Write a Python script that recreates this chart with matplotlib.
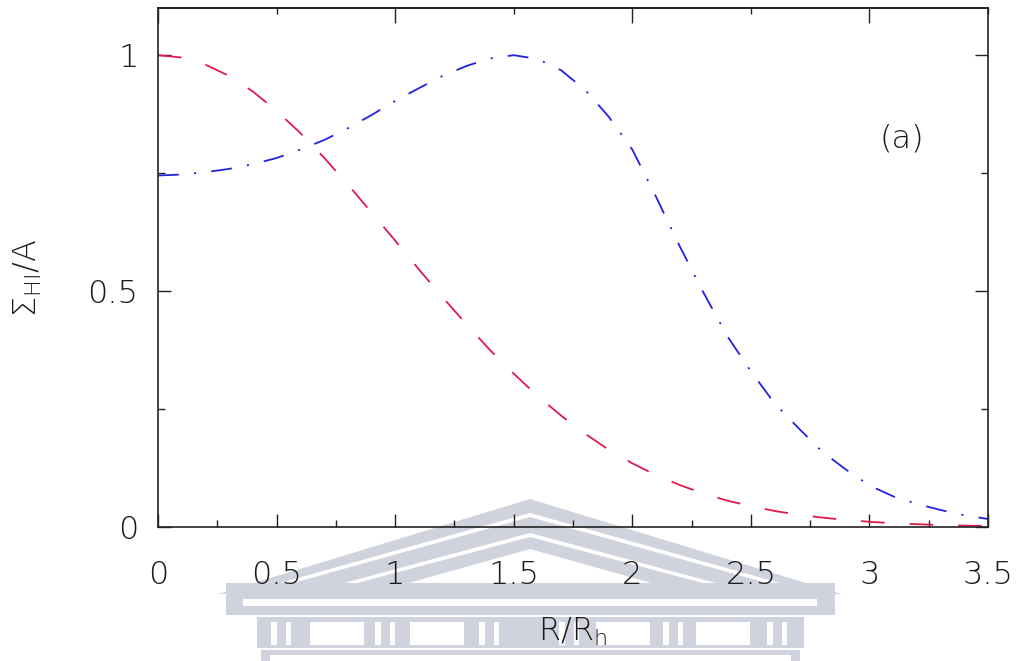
import numpy as np
import matplotlib
matplotlib.use('Agg')
import matplotlib.pyplot as plt
from matplotlib.patches import Polygon
from matplotlib.ticker import MultipleLocator

# radius in units of R_h
r = np.round(np.arange(0, 3.51, 0.1), 2)

# central profile (red, dashed)
sigma_central = [1.000, 0.995, 0.980, 0.956, 0.923, 0.882, 0.835, 0.783, 0.726, 0.667,
                 0.607, 0.546, 0.487, 0.430, 0.375, 0.325, 0.278, 0.236, 0.198, 0.164,
                 0.135, 0.110, 0.089, 0.071, 0.056, 0.044, 0.034, 0.026, 0.020, 0.015,
                 0.011, 0.008, 0.006, 0.004, 0.003, 0.002]

# ring profile (blue, dash-dot)
sigma_ring = [0.745, 0.747, 0.752, 0.759, 0.769, 0.782, 0.800, 0.820, 0.845, 0.873,
              0.903, 0.930, 0.956, 0.977, 0.993, 1.000, 0.992, 0.968, 0.927, 0.870,
              0.800, 0.700, 0.595, 0.497, 0.405, 0.330, 0.262, 0.210, 0.160, 0.122,
              0.088, 0.065, 0.049, 0.036, 0.025, 0.017]

W, H = 1024, 661
plt.rcParams['font.family'] = ['DejaVu Sans']
plt.rcParams['mathtext.fontset'] = 'custom'
plt.rcParams['mathtext.rm'] = 'DejaVu Sans:light'
plt.rcParams['mathtext.it'] = 'DejaVu Sans:light'
plt.rcParams['lines.scale_dashes'] = False

fig = plt.figure(figsize=(W / 100, H / 100), dpi=100)
fig.patch.set_facecolor('white')


def px(x, y):
    return (x / W, 1 - y / H)


# faint building watermark behind the plot
wm = '#d0d3de'
bg = 'white'


def poly(pts, color):
    fig.patches.append(Polygon([px(*p) for p in pts], closed=True, facecolor=color,
                               edgecolor='none', transform=fig.transFigure, zorder=-5))


def rect(x0, y0, x1, y1, color):
    poly([(x0, y0), (x1, y0), (x1, y1), (x0, y1)], color)


poly([(218, 594), (530, 499), (842, 594)], wm)
poly([(255, 590), (530, 513), (805, 590), (792, 590), (530, 517), (268, 590)], bg)
poly([(318, 590), (530, 533), (742, 590), (729, 590), (530, 537), (331, 590)], bg)
poly([(405, 584), (530, 549), (655, 584)], bg)
rect(226, 583, 835, 615, wm)
rect(243, 599, 817, 606, bg)
rect(257, 617, 804, 648, wm)
for cx in (-193, -93, 93, 193):
    rect(530 + cx - 27, 622, 530 + cx + 27, 645, bg)
for cx in (-248, -144, -40, 40, 144, 248):
    rect(530 + cx - 11, 622, 530 + cx - 5, 645, bg)
    rect(530 + cx + 4, 622, 530 + cx + 9, 645, bg)
rect(261, 650, 800, 661, wm)
rect(270, 655, 791, 661, bg)

ax = fig.add_axes([158 / W, 1 - 527 / H, 830 / W, 519 / H])
ax.set_facecolor('none')

ax.plot(r, sigma_central, color='#e0194e', lw=1.3, dashes=(17, 18))
ax.plot(r, sigma_ring, color='#2222dd', lw=1.3, dashes=(15, 11, 1.5, 11))

ax.set_xlim(0, 3.5)
ax.set_ylim(0, 1.1)

text_color = '#1c1c1c'
ax.xaxis.set_minor_locator(MultipleLocator(0.25))
ax.yaxis.set_minor_locator(MultipleLocator(0.25))
ax.set_xticks([0, 0.5, 1, 1.5, 2, 2.5, 3, 3.5])
ax.set_xticklabels(['0', '0.5', '1', '1.5', '2', '2.5', '3', '3.5'])
ax.set_yticks([0, 0.5, 1])
ax.set_yticklabels(['0', '0.5', '1'])

ax.tick_params(which='both', direction='in', top=False, right=True, width=1.0,
               colors='#222222', labelcolor=text_color, labelsize=23)
ax.tick_params(which='major', length=9.5)
ax.tick_params(which='minor', length=5)
ax.tick_params(axis='x', pad=24)
ax.tick_params(axis='y', pad=14)
for lab in ax.get_xticklabels() + ax.get_yticklabels():
    lab.set_fontweight('light')

# top axis carries ticks at whole and half units only
top = ax.secondary_xaxis('top')
top.xaxis.set_major_locator(MultipleLocator(1.0))
top.xaxis.set_minor_locator(MultipleLocator(0.5))
top.tick_params(which='both', direction='in', width=1.0, colors='#222222', labeltop=False)
top.tick_params(which='major', length=10.5)
top.tick_params(which='minor', length=4)

for s in list(ax.spines.values()) + list(top.spines.values()):
    s.set_linewidth(1.2)
    s.set_color('#222222')

ax.set_xlabel(r'$\mathrm{R/R_h}$', fontsize=23, color=text_color)
ax.xaxis.set_label_coords(0.5, -0.17)
ax.set_ylabel(r'$\Sigma_{\mathrm{HI}}\mathrm{/A}$', fontsize=23, color=text_color)
ax.yaxis.set_label_coords(-0.137, 0.48)

ax.text(3.135, 0.824, '(a)', fontsize=23, color=text_color, fontweight='light',
        ha='center', va='center')

fig.savefig('out.png', dpi=100, facecolor='white')
